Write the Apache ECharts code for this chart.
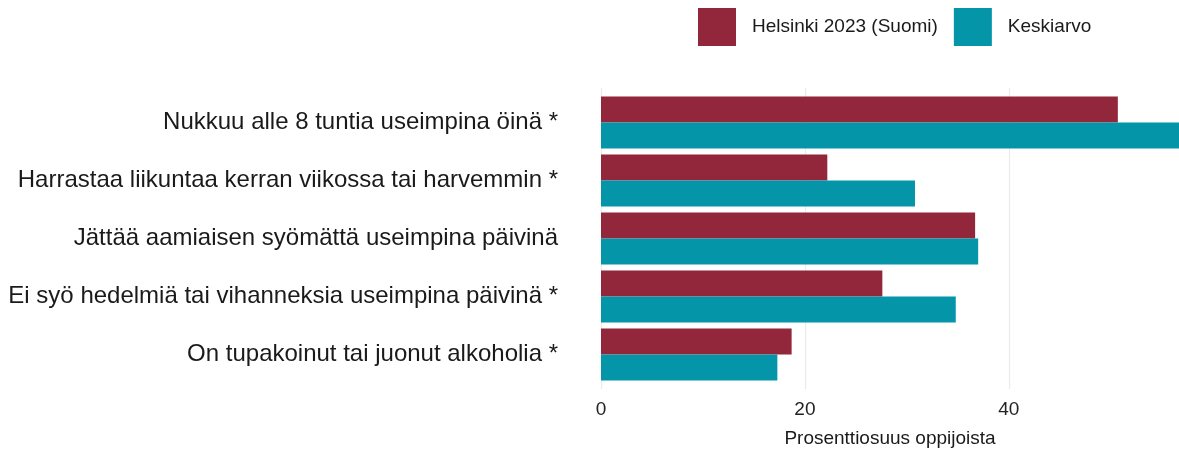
<!DOCTYPE html>
<html>
<head>
<meta charset="utf-8">
<script src="https://cdn.jsdelivr.net/npm/echarts@6/dist/echarts.min.js"></script>
<style>
html,body{margin:0;padding:0;background:#fff;}
#main{width:1179px;height:449px;}
</style>
</head>
<body>
<div id="main"></div>
<script>
var categories = [
	"Nukkuu alle 8 tuntia useimpina öinä *",
	"Harrastaa liikuntaa kerran viikossa tai harvemmin *",
	"Jättää aamiaisen syömättä useimpina päivinä",
	"Ei syö hedelmiä tai vihanneksia useimpina päivinä *",
	"On tupakoinut tai juonut alkoholia *"
];
var helsinki = [50.7, 22.2, 36.7, 27.6, 18.7];
var keskiarvo = [58.0, 30.8, 37.0, 34.8, 17.3];
var seriesNames = ["Helsinki 2023 (Suomi)", "Keskiarvo"];
var xTicks = [0, 20, 40];

var FONT = "'Liberation Sans', Arial, sans-serif";
var XMAX = 56.7;

var option = {
	animation: false,
	color: ['#92263b', '#0495a8'],
	textStyle: {fontFamily: FONT},
	legend: {
		left: 698,
		top: 8,
		padding: 0,
		itemWidth: 38,
		itemHeight: 38,
		itemGap: 16,
		icon: 'rect',
		textStyle: {fontSize: 19, color: '#1a1a1a', padding: [0, 0, 0, 11]},
		data: seriesNames
	},
	grid: [
		// bars
		{left: 601, right: 0, top: 93.5, height: 290, outerBoundsMode: 'none'},
		// panel with gridlines and x axis
		{left: 601, right: 0, top: 88, height: 301, outerBoundsMode: 'none'}
	],
	xAxis: [
		{gridIndex: 0, type: 'value', min: 0, max: XMAX, show: false},
		{
			gridIndex: 1, type: 'value', min: 0, max: XMAX, interval: 20,
			axisLine: {show: false},
			axisTick: {show: false},
			splitLine: {show: true, showMaxLine: false, lineStyle: {color: '#ebebeb', width: 1.2}},
			axisLabel: {
				fontSize: 19, color: '#222', margin: 11, showMaxLabel: false,
				formatter: function(v){ return xTicks.indexOf(v) >= 0 ? String(v) : ''; }
			},
			name: 'Prosenttiosuus oppijoista',
			nameLocation: 'middle',
			nameGap: 40,
			nameTextStyle: {fontSize: 19, color: '#1a1a1a'}
		}
	],
	yAxis: [
		{
			gridIndex: 0, type: 'category', inverse: true,
			data: categories,
			axisLine: {show: false},
			axisTick: {show: false},
			splitLine: {show: false},
			axisLabel: {fontSize: 24, color: '#1a1a1a', margin: 43}
		},
		{gridIndex: 1, type: 'value', min: 0, max: 1, show: false}
	],
	series: [
		{
			name: seriesNames[0], type: 'bar', xAxisIndex: 0, yAxisIndex: 0,
			barGap: '0%', barCategoryGap: '10%',
			data: helsinki
		},
		{
			name: seriesNames[1], type: 'bar', xAxisIndex: 0, yAxisIndex: 0,
			barGap: '0%', barCategoryGap: '10%',
			data: keskiarvo
		}
	]
};

var chart = echarts.init(document.getElementById('main'));
chart.setOption(option);
</script>
</body>
</html>
